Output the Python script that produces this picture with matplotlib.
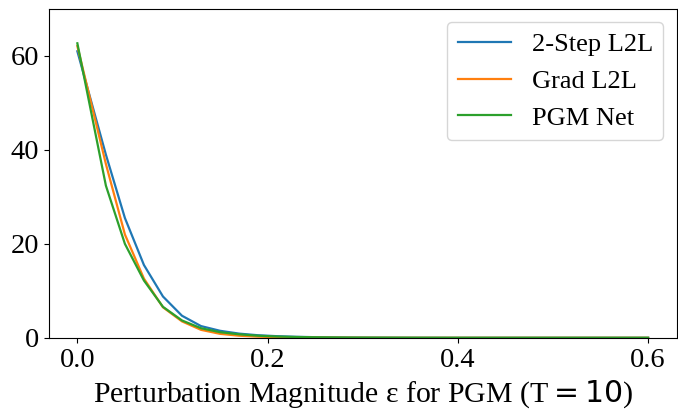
import matplotlib
matplotlib.use("Agg")
import matplotlib.pyplot as plt

plt.rcParams['font.family'] = ['Liberation Serif', 'DejaVu Serif']

eps = [0.0, 0.03, 0.05, 0.07, 0.09, 0.11, 0.13, 0.15, 0.17, 0.19, 0.21, 0.23,
       0.25, 0.27, 0.29, 0.31, 0.33, 0.35, 0.37, 0.39, 0.41, 0.43, 0.45, 0.47,
       0.49, 0.51, 0.53, 0.55, 0.57, 0.59, 0.60]

two_step = [61.0, 39.0, 25.5, 15.5, 8.8, 4.7, 2.5, 1.5, 0.9, 0.55, 0.35, 0.22,
            0.14, 0.09, 0.06, 0.04, 0.03, 0.02, 0.015, 0.01, 0.01, 0.01, 0.01, 0.01,
            0.01, 0.01, 0.01, 0.01, 0.01, 0.01, 0.01]
grad = [62.1, 37.0, 22.0, 12.6, 6.5, 3.5, 1.7, 0.85, 0.45, 0.25, 0.15, 0.09,
        0.06, 0.04, 0.03, 0.02, 0.015, 0.01, 0.01, 0.01, 0.01, 0.01, 0.01, 0.01,
        0.01, 0.01, 0.01, 0.01, 0.01, 0.01, 0.01]
pgm = [62.7, 32.4, 20.0, 12.2, 6.6, 3.7, 2.05, 1.2, 0.75, 0.45, 0.28, 0.18,
       0.12, 0.08, 0.05, 0.04, 0.03, 0.02, 0.015, 0.01, 0.01, 0.01, 0.01, 0.01,
       0.01, 0.01, 0.01, 0.01, 0.01, 0.01, 0.01]

labels = ["2-Step L2L", "Grad L2L", "PGM Net"]
colors = ["#1f77b4", "#ff7f0e", "#2ca02c"]

fig = plt.figure(figsize=(6.78, 4.09), dpi=100)
ax = fig.add_axes([0.072, 0.174, 0.926, 0.804])
for ys, lab, c in zip([two_step, grad, pgm], labels, colors):
    ax.plot(eps, ys, color=c, lw=1.6, label=lab)

ax.set_xlim(-0.03, 0.63)
ax.set_ylim(0, 70)
ax.set_xticks([0.0, 0.2, 0.4, 0.6])
ax.set_yticks([0, 20, 40, 60])
ax.tick_params(labelsize=20.5)
ax.set_xlabel("Perturbation Magnitude ε for PGM (T$=10$)", fontsize=21.5, labelpad=4)
ax.legend(fontsize=19, loc="upper right", handlelength=2.0)

fig.savefig("out.png", dpi=100)
